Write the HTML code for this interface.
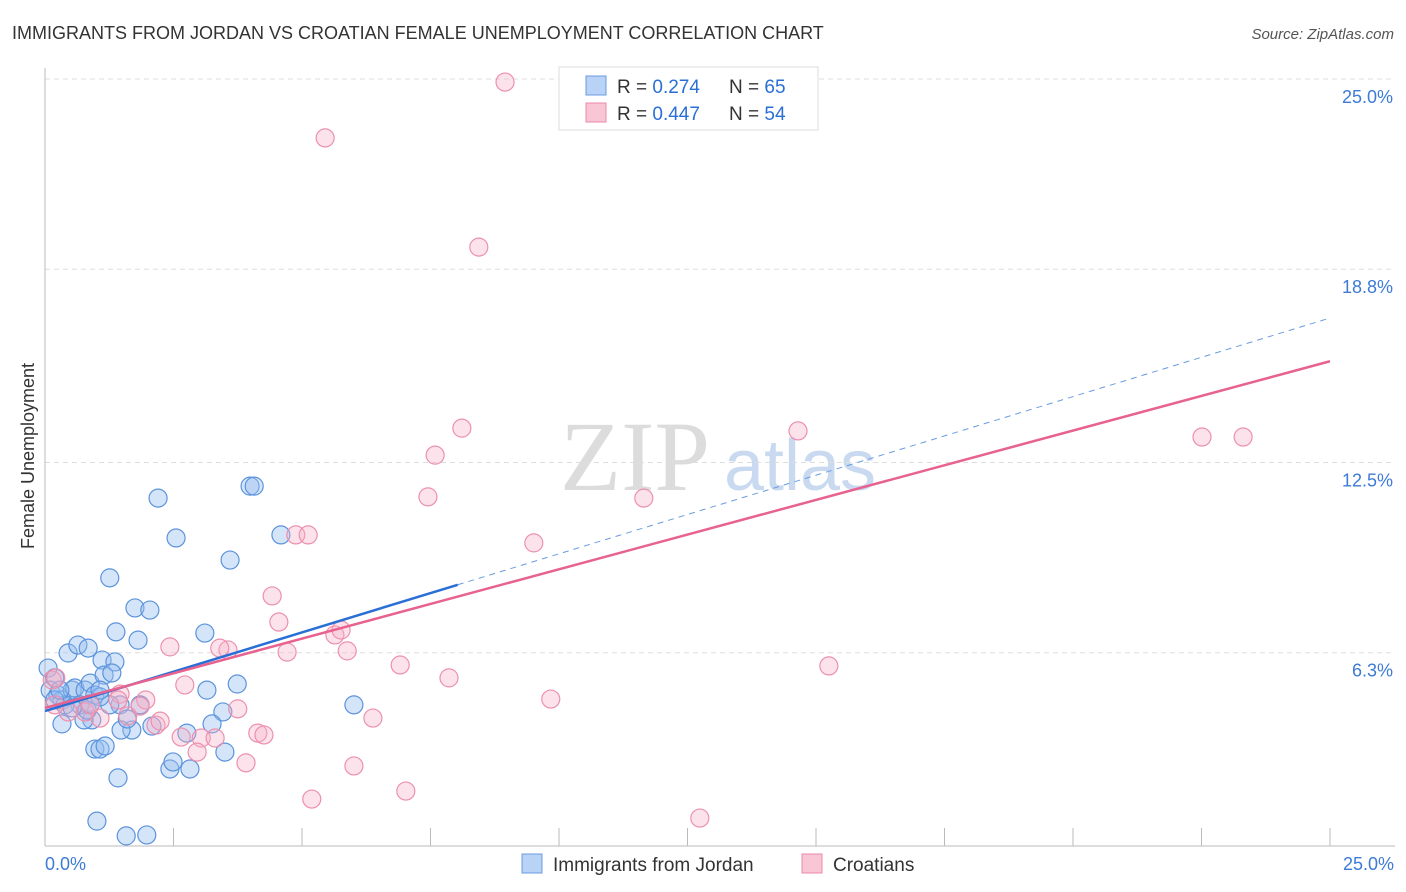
<!DOCTYPE html>
<html><head><meta charset="utf-8"><style>
body{margin:0;background:#fff;font-family:"Liberation Sans",sans-serif;}
#wrap{position:relative;width:1406px;height:892px;overflow:hidden;}
</style></head><body>
<div id="wrap">
<svg id="svg" width="1406" height="892" xmlns="http://www.w3.org/2000/svg">
<text x="12" y="39" font-size="18" fill="#333">IMMIGRANTS FROM JORDAN VS CROATIAN FEMALE UNEMPLOYMENT CORRELATION CHART</text>
<text x="1394" y="39" font-size="15" fill="#555" font-style="italic" text-anchor="end">Source: ZipAtlas.com</text>
<g>
<text x="635" y="490" font-size="100" font-family="Liberation Serif,serif" fill="#dcdcdc" text-anchor="middle">ZIP</text>
<text x="800" y="490" font-size="72" fill="#c9daf0" text-anchor="middle">atlas</text>
</g>
<g id="grid"></g>
<g id="axes"></g>
<g id="pts"></g>
<g id="lines"></g>
<text transform="translate(34,456) rotate(-90)" font-size="18" fill="#333" text-anchor="middle">Female Unemployment</text>
<text x="45" y="870" font-size="18" fill="#3d7bd6">0.0%</text>
<text x="1394" y="870" font-size="18" fill="#3d7bd6" text-anchor="end">25.0%</text>
<g>
<rect x="559" y="67" width="259" height="63" fill="#fff" stroke="#ddd"/>
<rect x="586" y="76" width="20" height="19" fill="#b8d3f5" stroke="#6a9be0"/>
<rect x="586" y="103" width="20" height="19" fill="#f9c6d6" stroke="#e98aa8"/>
<text x="617" y="93" font-size="19" fill="#333">R = <tspan fill="#2a6fd6">0.274</tspan></text>
<text x="729" y="93" font-size="19" fill="#333">N = <tspan fill="#2a6fd6">65</tspan></text>
<text x="617" y="120" font-size="19" fill="#333">R = <tspan fill="#2a6fd6">0.447</tspan></text>
<text x="729" y="120" font-size="19" fill="#333">N = <tspan fill="#2a6fd6">54</tspan></text>
</g>
<g>
<rect x="522" y="854" width="20" height="19" fill="#b8d3f5" stroke="#6a9be0"/>
<text x="553" y="871" font-size="19" fill="#333">Immigrants from Jordan</text>
<rect x="802" y="854" width="20" height="19" fill="#f9c6d6" stroke="#e98aa8"/>
<text x="833" y="871" font-size="19" fill="#333">Croatians</text>
</g>
</svg>
</div>
<script>
const yTicks=[25.0,18.8,12.5,6.3];
const yTickLabels=["25.0%","18.8%","12.5%","6.3%"];
const xTickCount=10;
const blueX=[0.06,0.19,0.10,0.25,0.33,0.45,0.64,0.84,0.53,0.58,0.78,0.88,0.97,1.11,1.36,1.15,1.30,1.26,1.38,1.75,2.04,1.81,2.20,2.55,3.60,3.99,4.07,4.59,3.11,3.74,3.15,3.46,3.25,3.50,2.76,2.82,2.43,2.49,2.08,1.69,1.48,1.46,1.26,1.07,0.91,0.76,0.33,0.97,1.07,1.17,1.42,1.01,1.58,1.98,6.01,1.85,1.60,0.68,0.39,0.19,0.82,0.53,0.88,0.29,1.07];
const blueY=[5.80,5.48,5.08,4.92,4.76,6.29,6.55,6.45,5.08,5.15,5.08,5.31,4.92,6.06,6.00,5.57,5.64,8.74,6.98,7.76,7.69,6.71,11.34,10.04,9.32,11.73,11.73,10.14,6.94,5.28,5.08,4.37,3.98,3.06,3.68,2.51,2.51,2.74,3.91,3.78,3.78,4.60,4.60,4.86,4.11,4.11,3.98,3.16,3.16,3.26,2.22,0.81,0.33,0.36,4.60,4.60,4.14,4.60,4.60,4.76,4.43,4.50,4.63,5.08,5.08];
const pinkX=[8.95,5.45,8.44,8.11,14.65,22.51,23.31,7.59,7.45,11.65,9.51,4.88,5.12,4.42,4.55,5.64,5.76,5.88,4.71,3.56,3.40,2.43,2.72,6.91,7.86,15.25,9.84,3.75,6.38,4.14,4.26,3.91,3.04,2.96,2.65,2.16,2.24,1.61,1.96,1.85,1.46,1.07,0.78,0.45,0.19,0.14,0.21,6.01,5.19,7.02,12.74,3.31,1.42,0.88];
const pinkY=[24.90,23.08,19.52,13.62,13.53,13.33,13.33,12.74,11.38,11.34,9.88,10.14,10.14,8.15,7.30,6.88,7.04,6.36,6.32,6.39,6.45,6.49,5.25,5.90,5.48,5.87,4.79,4.47,4.17,3.68,3.62,2.71,3.52,3.06,3.55,3.94,4.07,4.24,4.76,4.56,4.95,4.17,4.37,4.37,4.60,5.41,5.48,2.61,1.53,1.79,0.91,3.52,4.76,4.60];
const blueLine=[0,4.40,25,17.21];
const blueSolidEnd=8.03;
const pinkLine=[0,4.50,25,15.80];

const NS="http://www.w3.org/2000/svg";
const X0=45,X1=1330,Y0=846,Y25=79;
const sx=v=>X0+v*(X1-X0)/25;
const sy=v=>Y0-v*(Y0-Y25)/25;
function mk(tag,attrs,parent){const e=document.createElementNS(NS,tag);for(const k in attrs)e.setAttribute(k,attrs[k]);parent.appendChild(e);return e;}
const grid=document.getElementById('grid'),axes=document.getElementById('axes'),pts=document.getElementById('pts'),lines=document.getElementById('lines');
yTicks.forEach((t,i)=>{
 const l=mk('line',{x1:X0,x2:1395,y1:sy(t),y2:sy(t),stroke:'#dddddd','stroke-dasharray':'5,4'},grid);
 
 
 const tx=mk('text',{x:1393,y:sy(t)+24,'font-size':18,fill:'#3d7bd6','text-anchor':'end'},grid);
 tx.textContent=yTickLabels[i];
 
 
});
const ya=mk('line',{x1:X0,x2:X0,y1:68,y2:Y0,stroke:'#bbb'},axes);


const xa=mk('line',{x1:X0,x2:1395,y1:Y0,y2:Y0,stroke:'#bbb'},axes);


for(let i=1;i<=xTickCount;i++){
 const v=25*i/xTickCount;
 const t=mk('line',{x1:sx(v),x2:sx(v),y1:828,y2:Y0,stroke:'#bbb'},axes);
 
 
}
blueX.forEach((x,i)=>{
 const c=mk('circle',{cx:sx(x),cy:sy(blueY[i]),r:9,fill:'rgba(150,190,240,0.4)',stroke:'#5b93dc','stroke-width':1.2},pts);
 
 
});
pinkX.forEach((x,i)=>{
 const c=mk('circle',{cx:sx(x),cy:sy(pinkY[i]),r:9,fill:'rgba(245,175,198,0.35)',stroke:'#ec90ae','stroke-width':1.2},pts);
 
 
});
const yb=x=>blueLine[1]+(blueLine[3]-blueLine[1])*(x-blueLine[0])/(blueLine[2]-blueLine[0]);
const yp=x=>pinkLine[1]+(pinkLine[3]-pinkLine[1])*(x-pinkLine[0])/(pinkLine[2]-pinkLine[0]);
const bs=mk('line',{x1:sx(0),y1:sy(yb(0)),x2:sx(blueSolidEnd),y2:sy(yb(blueSolidEnd)),stroke:'#2a6fd6','stroke-width':2.5},lines);


const bd=mk('line',{x1:sx(blueSolidEnd),y1:sy(yb(blueSolidEnd)),x2:sx(25),y2:sy(yb(25)),stroke:'#6a9be0','stroke-width':1,'stroke-dasharray':'6,5'},lines);


const pl=mk('line',{x1:sx(0),y1:sy(yp(0)),x2:sx(25),y2:sy(yp(25)),stroke:'#e8628f','stroke-width':2.5},lines);


</script>
</body></html>
